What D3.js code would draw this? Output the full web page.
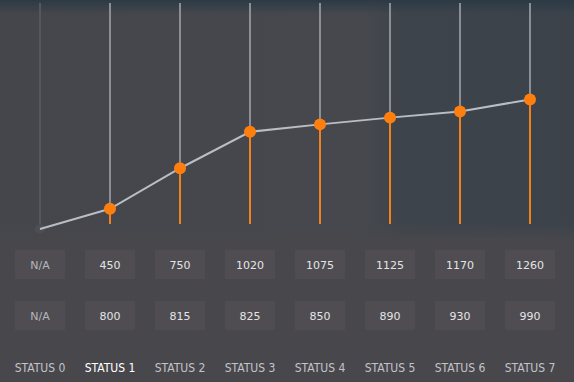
<!DOCTYPE html>
<html>
<head>
<meta charset="utf-8">
<script src="https://cdn.jsdelivr.net/npm/d3@7"></script>
<style>
  html, body { margin: 0; padding: 0; background: #47474b; }
  svg { display: block; }
</style>
</head>
<body>
<div id="chart"></div>
<script>
// Data
let statuses = ["STATUS 0", "STATUS 1", "STATUS 2", "STATUS 3", "STATUS 4", "STATUS 5", "STATUS 6", "STATUS 7"];
let lineValues = [null, 450, 750, 1020, 1075, 1125, 1170, 1260];
let rowA = ["N/A", "450", "750", "1020", "1075", "1125", "1170", "1260"];
let rowB = ["N/A", "800", "815", "825", "850", "890", "930", "990"];
let selected = 1;

let w = 574;
let h = 382;

let svg = d3.select("#chart")
  .append("svg")
  .attr("width", w)
  .attr("height", h);

let defs = svg.append("defs");

// plot background: grey on the left, bluish on the right
let bgGrad = defs.append("linearGradient")
  .attr("id", "bg-h")
  .attr("x1", "0%").attr("x2", "100%").attr("y1", "0%").attr("y2", "0%");
bgGrad.append("stop").attr("offset", "0%").attr("stop-color", "#45464b");
bgGrad.append("stop").attr("offset", "63%").attr("stop-color", "#46484d");
bgGrad.append("stop").attr("offset", "70%").attr("stop-color", "#3e444b");
bgGrad.append("stop").attr("offset", "100%").attr("stop-color", "#3b424a");

let topGrad = defs.append("linearGradient")
  .attr("id", "bg-top")
  .attr("x1", "0%").attr("x2", "0%").attr("y1", "0%").attr("y2", "100%");
topGrad.append("stop").attr("offset", "0%").attr("stop-color", "#2c3a46").attr("stop-opacity", 1);
topGrad.append("stop").attr("offset", "100%").attr("stop-color", "#2c3a46").attr("stop-opacity", 0);

let botGrad = defs.append("linearGradient")
  .attr("id", "bg-bot")
  .attr("x1", "0%").attr("x2", "0%").attr("y1", "0%").attr("y2", "100%");
botGrad.append("stop").attr("offset", "0%").attr("stop-color", "#47474c").attr("stop-opacity", 0);
botGrad.append("stop").attr("offset", "100%").attr("stop-color", "#47474c").attr("stop-opacity", 1);

svg.append("rect").attr("width", w).attr("height", 240).attr("fill", "url(#bg-h)");
svg.append("rect").attr("width", w).attr("height", 14).attr("fill", "url(#bg-top)");
svg.append("rect").attr("y", 222).attr("width", w).attr("height", 18).attr("fill", "url(#bg-bot)");
svg.append("rect").attr("y", 240).attr("width", w).attr("height", 142).attr("fill", "#48474c");

// Scales
let x = d3.scalePoint()
  .domain(statuses)
  .range([40, 530]);

let y = d3.scaleLinear()
  .domain([300, 1300])
  .range([229, 94]);

let lineTop = 3;
let lineBottom = 224;

let cols = svg.append("g");

statuses.forEach((s, i) => {
  let v = lineValues[i];
  let cx = x(s);
  if (v == null) {
    cols.append("line")
      .attr("x1", cx).attr("x2", cx)
      .attr("y1", lineTop).attr("y2", y(300))
      .attr("stroke", "#55575c")
      .attr("stroke-width", 2);
    return;
  }
  cols.append("line")
    .attr("x1", cx).attr("x2", cx)
    .attr("y1", lineTop).attr("y2", y(v))
    .attr("stroke", "#8b8e94")
    .attr("stroke-width", 2);
  cols.append("line")
    .attr("x1", cx).attr("x2", cx)
    .attr("y1", y(v)).attr("y2", lineBottom)
    .attr("stroke", "#f0821e")
    .attr("stroke-width", 2);
});

// connecting line, status 0 sits at the bottom of the scale
let pts = statuses.map((s, i) => [x(s), y(lineValues[i] == null ? 300 : lineValues[i])]);

svg.append("circle")
  .attr("cx", pts[0][0]).attr("cy", pts[0][1])
  .attr("r", 5)
  .attr("fill", "#4c4e53");

svg.append("path")
  .attr("d", d3.line()(pts))
  .attr("fill", "none")
  .attr("stroke", "#b9bdc4")
  .attr("stroke-width", 2);

svg.selectAll("circle.dot")
  .data(statuses.filter((s, i) => lineValues[i] != null))
  .join("circle")
  .attr("class", "dot")
  .attr("cx", d => x(d))
  .attr("cy", d => y(lineValues[statuses.indexOf(d)]))
  .attr("r", 6)
  .attr("fill", "#ff7f0e");

// value boxes
function valueRow(vals, top) {
  let g = svg.append("g");
  g.selectAll("rect")
    .data(statuses)
    .join("rect")
    .attr("x", d => x(d) - 25)
    .attr("y", top)
    .attr("width", 50)
    .attr("height", 29)
    .attr("fill", "#4f4d52");
  g.selectAll("text")
    .data(statuses)
    .join("text")
    .attr("x", d => x(d))
    .attr("y", top + 19)
    .attr("text-anchor", "middle")
    .attr("font-family", "'DejaVu Sans', sans-serif")
    .attr("font-size", 11)
    .attr("fill", (d, i) => i == 0 ? "#b4b6bb" : "#e4e4e6")
    .text((d, i) => vals[i]);
}
valueRow(rowA, 250);
valueRow(rowB, 301);

// status labels
svg.append("g")
  .selectAll("text")
  .data(statuses)
  .join("text")
  .attr("x", d => x(d))
  .attr("y", 372)
  .attr("text-anchor", "middle")
  .attr("font-family", "'DejaVu Sans Condensed', 'DejaVu Sans', sans-serif")
  .attr("font-size", 12)
  .attr("fill", (d, i) => i == selected ? "#ffffff" : "#c3c4c9")
  .text(d => d);
</script>
</body>
</html>
